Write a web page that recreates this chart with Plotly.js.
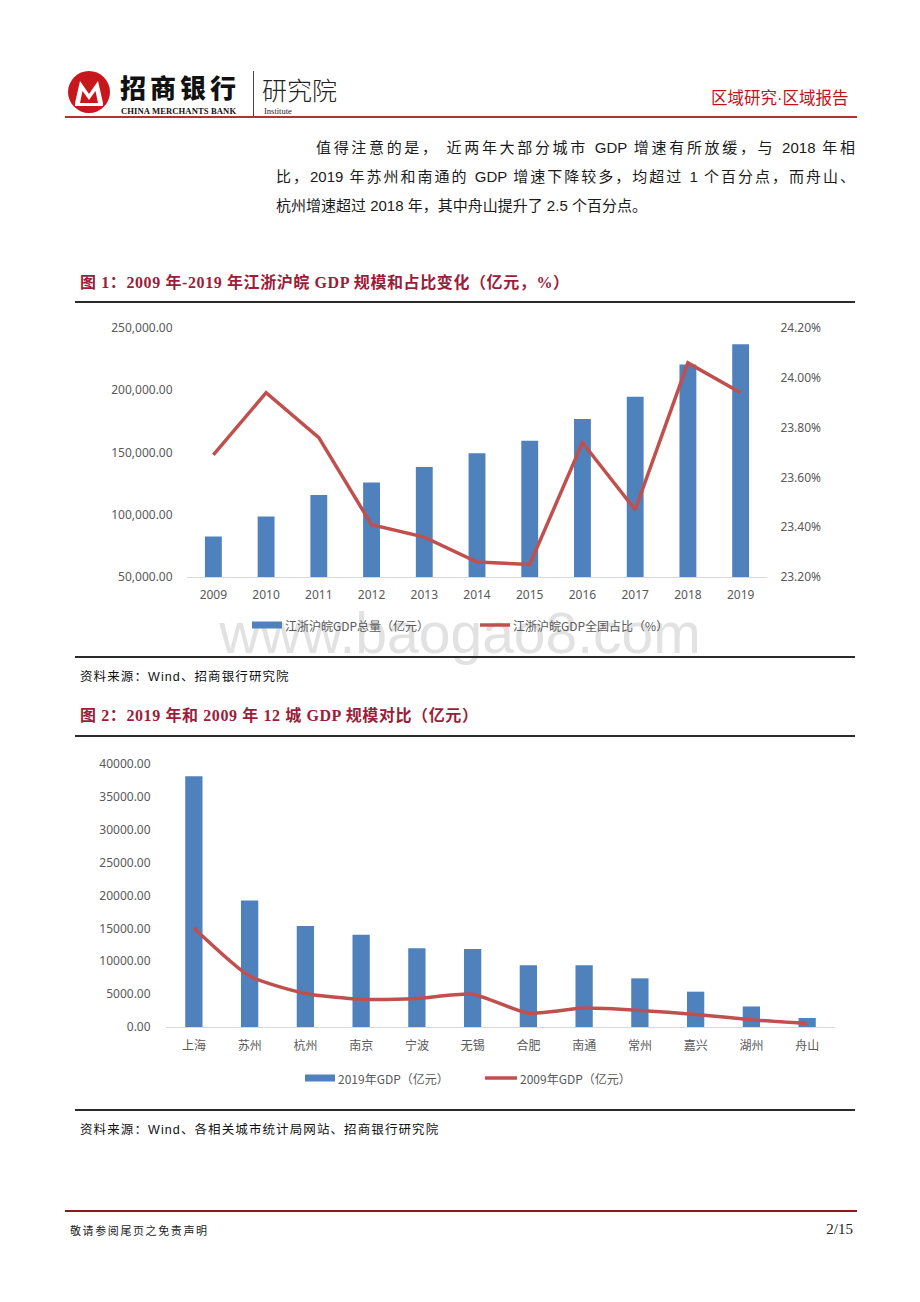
<!DOCTYPE html>
<html><head><meta charset="utf-8">
<script src="https://cdn.plot.ly/plotly-3.0.1.min.js"></script>
<style>
body{margin:0;background:#fff;}
#page{position:relative;width:920px;height:1302px;overflow:hidden;background:#fff;font-family:"Noto Sans CJK SC",sans-serif;}
.abs{position:absolute;white-space:nowrap;}
.rule{position:absolute;left:75px;width:780px;height:1.5px;background:#2b2b2b;}
.ftitle{position:absolute;left:80px;font-family:"Liberation Serif","Noto Sans CJK SC",serif;font-weight:bold;font-size:16px;letter-spacing:0.6px;color:#9b1d3a;line-height:20px;white-space:nowrap;}
.src{position:absolute;left:80px;font-size:12.5px;letter-spacing:1.1px;color:#111;line-height:16px;white-space:nowrap;font-family:"Liberation Sans","Noto Sans CJK SC",sans-serif;}
.para{position:absolute;font-family:"Liberation Sans","Noto Sans CJK SC",sans-serif;font-size:15px;color:#1a1a1a;line-height:20px;white-space:nowrap;}
.just{text-align:justify;text-align-last:justify;}
#wm{position:absolute;left:0;width:920px;top:600px;text-align:center;font-family:"Liberation Sans",sans-serif;font-size:57px;color:#e2e2e2;line-height:66px;}
</style></head><body><div id="page">

<!-- header -->
<svg class="abs" style="left:67px;top:70px" width="44" height="44" viewBox="0 0 44 44">
  <circle cx="22" cy="22" r="21" fill="#c8161d"/>
  <path d="M8 33 L13 11 L22 24 L31 11 L36 33 L31 33 L28.5 21 L22 30 L15.5 21 L13 33 Z" fill="#fff"/>
  <rect x="8" y="33" width="28" height="3" fill="#fff"/>
</svg>
<div class="abs" style="left:120px;top:74px;font-size:26px;font-weight:900;letter-spacing:4px;color:#111;line-height:26px;">招商银行</div>
<div class="abs" style="left:121px;top:107px;font-family:'Liberation Serif',serif;font-weight:bold;font-size:8.6px;color:#111;line-height:9px;letter-spacing:0.1px;">CHINA MERCHANTS BANK</div>
<div class="abs" style="left:253px;top:71px;width:1px;height:46px;background:#444;"></div>
<div class="abs" style="left:262px;top:76px;font-size:25px;font-weight:300;color:#222;line-height:26px;">研究院</div>
<div class="abs" style="left:264px;top:107px;font-family:'Liberation Serif',serif;font-size:8.5px;color:#222;line-height:9px;">Institute</div>
<div class="abs" style="left:711px;top:86px;font-size:16.5px;color:#c0141c;line-height:22px;">区域研究<span style="font-family:'Liberation Sans',sans-serif;">·</span>区域报告</div>
<div class="abs" style="left:65px;top:116px;width:792px;height:2px;background:#b8312f;"></div>

<!-- paragraph -->
<div class="para just" style="left:316px;top:138px;width:539px;">值得注意的是， 近两年大部分城市 GDP 增速有所放缓，与 2018 年相</div>
<div class="para just" style="left:276px;top:167px;width:579px;">比，2019 年苏州和南通的 GDP 增速下降较多，均超过 1 个百分点，而舟山、</div>
<div class="para" style="left:276px;top:196px;">杭州增速超过 2018 年，其中舟山提升了 2.5 个百分点。</div>

<!-- figure 1 -->
<div class="ftitle" style="top:273px;">图 1：2009 年-2019 年江浙沪皖 GDP 规模和占比变化（亿元，%）</div>
<div class="rule" style="top:301px;"></div>
<div id="wm">www.baogao8.com</div>
<div id="chart1" class="abs" style="left:75px;top:304px;width:780px;height:352px;"></div>
<div class="rule" style="top:656px;"></div>
<div class="src" style="top:669px;">资料来源：Wind、招商银行研究院</div>

<!-- figure 2 -->
<div class="ftitle" style="top:706px;">图 2：2019 年和 2009 年 12 城 GDP 规模对比（亿元）</div>
<div class="rule" style="top:735px;"></div>
<div id="chart2" class="abs" style="left:75px;top:738px;width:780px;height:370px;"></div>
<div class="rule" style="top:1109px;"></div>
<div class="src" style="top:1122px;">资料来源：Wind、各相关城市统计局网站、招商银行研究院</div>

<!-- footer -->
<div class="abs" style="left:65px;top:1210px;width:792px;height:1.5px;background:#8b1a1a;"></div>
<div class="abs" style="left:70px;top:1223px;font-size:11px;letter-spacing:1.6px;color:#222;line-height:15px;">敬请参阅尾页之免责声明</div>
<div class="abs" style="left:800px;width:53px;text-align:right;top:1220px;font-family:'Liberation Serif',serif;font-size:15px;color:#222;line-height:18px;">2/15</div>
</div>

<script>
// ---------- data: figure 1 ----------
const years = ['2009','2010','2011','2012','2013','2014','2015','2016','2017','2018','2019'];
const gdpTotal = [82500, 98600, 115800, 126000, 138300, 149300, 159500, 177000, 194800, 220600, 237000];
const gdpShare = [23.69, 23.94, 23.76, 23.41, 23.36, 23.26, 23.25, 23.74, 23.47, 24.06, 23.94];
const name1a = '江浙沪皖GDP总量（亿元）';
const name1b = '江浙沪皖GDP全国占比（%）';

// ---------- data: figure 2 ----------
const cities = ['上海','苏州','杭州','南京','宁波','无锡','合肥','南通','常州','嘉兴','湖州','舟山'];
const gdp2019 = [38155, 19236, 15373, 14030, 11985, 11852, 9409, 9383, 7401, 5370, 3123, 1372];
const gdp2009 = [15046, 7740, 5098, 4230, 4329, 4992, 2102, 2872, 2520, 1918, 1111, 531];
const name2a = '2019年GDP（亿元）';
const name2b = '2009年GDP（亿元）';

const BLUE = '#4f81bd', RED = '#c0504d', GRAY = '#595959';
const tickFont = {family: 'Noto Sans, Open Sans, sans-serif', size: 12, color: GRAY};
const cjkFont = {family: 'Noto Sans CJK SC, sans-serif', size: 12, color: GRAY};

// helper to build a custom legend (pixel positions on page -> paper coords)
function legend(dom, items) {
  const shapes = [], ann = [];
  const px = x => (x - dom.left) / dom.width;
  const py = y => (dom.bottom - y) / dom.height;
  items.forEach(it => {
    if (it.kind === 'bar') {
      shapes.push({type: 'rect', xref: 'paper', yref: 'paper', x0: px(it.x0), x1: px(it.x1),
        y0: py(it.y + 3.5), y1: py(it.y - 3.5), fillcolor: it.color, line: {width: 0}});
    } else {
      shapes.push({type: 'line', xref: 'paper', yref: 'paper', x0: px(it.x0), x1: px(it.x1),
        y0: py(it.y), y1: py(it.y), line: {color: it.color, width: 3.5}});
    }
    ann.push({xref: 'paper', yref: 'paper', x: px(it.tx), y: py(it.y), xanchor: 'left', yanchor: 'middle',
      text: it.text, showarrow: false, font: cjkFont});
  });
  return {shapes, ann};
}

// ---------- chart 1 ----------
const dom1 = {left: 187, width: 580, bottom: 577, height: 249};
const lg1 = legend(dom1, [
  {kind: 'bar', x0: 252, x1: 282, y: 625, tx: 283, color: BLUE, text: name1a},
  {kind: 'line', x0: 480, x1: 510, y: 625, tx: 511, color: RED, text: name1b}
]);
Plotly.newPlot('chart1', [
  {type: 'bar', x: years, y: gdpTotal, name: name1a, marker: {color: BLUE}, yaxis: 'y'},
  {type: 'scatter', mode: 'lines', x: years, y: gdpShare, name: name1b, yaxis: 'y2',
   line: {color: RED, width: 3.5}}
], {
  width: 780, height: 352,
  margin: {l: 112, r: 88, t: 24, b: 79},
  paper_bgcolor: 'rgba(0,0,0,0)', plot_bgcolor: 'rgba(0,0,0,0)',
  showlegend: false, bargap: 0.68,
  font: tickFont,
  xaxis: {type: 'category', showline: true, linecolor: '#d9d9d9', linewidth: 1, showgrid: false,
    ticks: 'outside', ticklen: 7, tickcolor: 'rgba(0,0,0,0)', tickfont: tickFont, zeroline: false},
  yaxis: {range: [50000, 250000], dtick: 50000, tick0: 50000, tickformat: ',.2f', showgrid: false,
    zeroline: false, showline: false, ticks: 'outside', ticklen: 11, tickcolor: 'rgba(0,0,0,0)', tickfont: tickFont},
  yaxis2: {overlaying: 'y', side: 'right', range: [23.2, 24.2], dtick: 0.2, tick0: 23.2, tickformat: '.2f',
    ticksuffix: '%', showgrid: false, zeroline: false, showline: false, ticks: 'outside', ticklen: 10,
    tickcolor: 'rgba(0,0,0,0)', tickfont: tickFont},
  shapes: lg1.shapes, annotations: lg1.ann
}, {staticPlot: true});

// ---------- chart 2 ----------
const dom2 = {left: 166, width: 669, bottom: 1027, height: 263};
const lg2 = legend(dom2, [
  {kind: 'bar', x0: 305, x1: 335, y: 1078, tx: 336, color: BLUE, text: name2a},
  {kind: 'line', x0: 485, x1: 517, y: 1078, tx: 518, color: RED, text: name2b}
]);
Plotly.newPlot('chart2', [
  {type: 'bar', x: cities, y: gdp2019, name: name2a, marker: {color: BLUE}},
  {type: 'scatter', mode: 'lines', x: cities, y: gdp2009, name: name2b,
   line: {color: RED, width: 3.5, shape: 'spline', smoothing: 0.6}}
], {
  width: 780, height: 370,
  margin: {l: 91, r: 20, t: 26, b: 81},
  paper_bgcolor: 'rgba(0,0,0,0)', plot_bgcolor: 'rgba(0,0,0,0)',
  showlegend: false, bargap: 0.69,
  font: tickFont,
  xaxis: {type: 'category', showline: true, linecolor: '#d9d9d9', linewidth: 1, showgrid: false,
    ticks: 'outside', ticklen: 8, tickcolor: 'rgba(0,0,0,0)', tickfont: cjkFont, zeroline: false},
  yaxis: {range: [0, 40000], dtick: 5000, tick0: 0, tickformat: '.2f', showgrid: false,
    zeroline: false, showline: false, ticks: 'outside', ticklen: 12, tickcolor: 'rgba(0,0,0,0)', tickfont: tickFont},
  shapes: lg2.shapes, annotations: lg2.ann
}, {staticPlot: true});
</script>
</body></html>
